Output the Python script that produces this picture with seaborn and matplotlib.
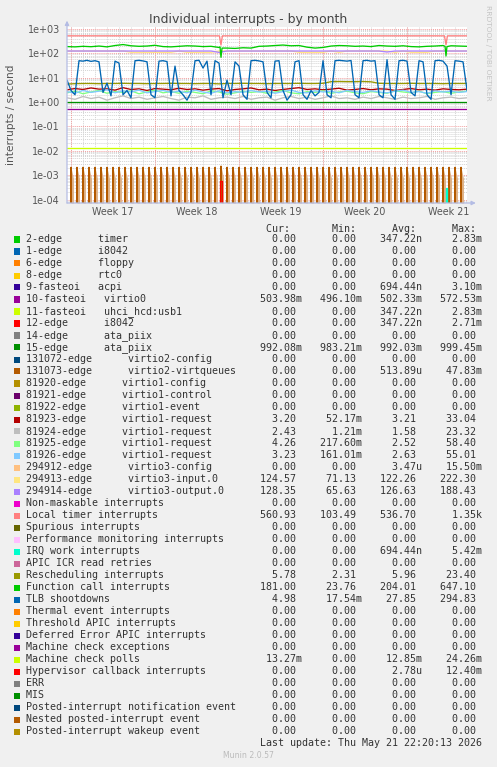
import numpy as np
import pandas as pd
import matplotlib
matplotlib.use("Agg")
import matplotlib.pyplot as plt
import seaborn as sns
from matplotlib.patches import Rectangle

sns.set_theme(style="white")
plt.rcParams["font.family"] = ["DejaVu Sans"]

W, H = 497, 767

# ---- values (interrupts / second) ----
# TLB shootdowns, one value every 8 h
tlb_values = [8, 3, 2, 50, 48, 52, 47, 50, 45, 2.5,
              6, 1.8, 48, 40, 2, 3, 1.5, 50, 52, 49,
              45, 2, 1.5, 48, 50, 46, 1.8, 30, 3, 2,
              1.2, 2.5, 50, 52, 25, 48, 2, 50, 40, 1.5,
              8, 2, 45, 30, 2, 1.3, 50, 52, 49, 45,
              2.5, 1.5, 48, 50, 3, 1.2, 2, 45, 50, 2,
              1.3, 3, 1.8, 2.5, 50, 2, 1.5, 50, 52, 50,
              48, 51, 2, 1.5, 50, 52, 48, 50, 2, 1.5,
              55, 2, 1.3, 50, 52, 48, 2.5, 1.8, 50, 45,
              2, 1.3, 50, 52, 48, 30, 2, 50, 48, 45, 3]

# one value every 16 h
cal_values = [190, 185, 195, 188, 200, 185, 210, 230, 205, 195,
              200, 215, 190, 185, 195, 205, 200, 190, 195, 175,
              165, 160, 170, 165, 195, 200, 210, 220, 205, 210,
              180, 165, 175, 200, 210, 205, 195, 200, 190, 210,
              200, 195, 205, 190, 185, 195, 200, 210, 205, 200, 195]
res_values = [5.5, 5.7, 5.8, 5.8, 5.7, 5.8, 5.8, 5.9, 5.8, 5.8,
              5.7, 5.8, 5.8, 5.9, 5.8, 5.8, 5.7, 5.8, 5.8, 5.6,
              5.8, 5.8, 5.9, 5.8, 5.8, 5.7, 5.8, 5.8, 5.8, 5.9,
              5.8, 5.8, 5.9, 6.9, 7.0, 6.9, 6.9, 7.0, 6.8, 5.9,
              5.8, 5.8, 5.8, 5.9, 5.8, 5.8, 5.8, 5.7, 5.8, 5.8, 5.8]
out3_values = [125, 125, 125, 125, 125, 125, 125, 125, 125, 125,
               125, 125, 125, 125, 125, 125, 125, 125, 125, 110,
               125, 125, 125, 125, 125, 125, 125, 125, 125, 125,
               125, 125, 125, 125, 125, 125, 125, 125, 125, 125,
               114, 125, 125, 125, 125, 125, 125, 125, 125, 125, 125]
in3_values = [125, 125, 125, 125, 125, 125, 125, 125, 111, 111,
              111, 111, 111, 111, 125, 111, 111, 111, 111, 125,
              125, 125, 125, 125, 125, 125, 125, 125, 125, 111,
              111, 111, 111, 125, 111, 125, 125, 125, 125, 125,
              125, 111, 125, 111, 111, 111, 125, 125, 125, 125, 125]
req23_values = [3.2, 3.6, 3.3, 3.8, 3.4, 3.5, 3.1, 3.9, 3.3, 3.5,
                3.0, 3.6, 3.4, 3.2, 3.7, 3.3, 3.5, 3.1, 3.4, 3.6,
                2.9, 3.3, 3.5, 3.8, 3.2, 3.4, 3.0, 3.3, 3.6, 3.9,
                3.3, 3.5, 3.2, 3.4, 3.7, 3.1, 3.3, 3.6, 3.2, 3.5,
                3.4, 3.0, 3.3, 3.6, 3.2, 3.4, 3.1, 3.5, 3.3, 3.2, 3.4]
req24_values = [1.5, 1.3, 1.7, 1.4, 1.6, 1.2, 1.5, 1.8, 1.4, 1.6,
                1.3, 1.5, 1.7, 1.4, 1.2, 1.6, 1.5, 1.8, 1.3, 1.5,
                1.6, 1.4, 1.7, 1.3, 1.5, 1.6, 1.2, 1.5, 1.7, 1.4,
                1.6, 1.3, 1.5, 1.8, 1.4, 1.5, 1.3, 1.6, 1.4, 1.7,
                1.5, 1.3, 1.6, 1.4, 1.5, 1.7, 1.3, 1.5, 1.6, 1.4, 1.5]
req25_values = [2.4, 2.8, 2.2, 2.6, 3.0, 2.3, 2.7, 2.5, 2.9, 2.2,
                2.6, 3.1, 2.4, 2.7, 2.3, 2.8, 2.5, 2.2, 2.9, 2.6,
                2.1, 2.4, 2.8, 2.5, 2.7, 2.3, 2.6, 3.0, 2.4, 2.2,
                2.7, 2.5, 2.9, 2.3, 2.6, 2.8, 2.4, 2.2, 2.7, 2.5,
                2.3, 2.9, 2.6, 2.4, 2.8, 2.2, 2.5, 2.7, 2.3, 2.6, 2.8]
req26_values = [2.7, 2.3, 3.0, 2.5, 2.8, 3.2, 2.4, 2.9, 2.6, 3.1,
                2.4, 2.7, 3.0, 2.5, 2.8, 2.4, 3.1, 2.6, 2.3, 2.9,
                2.4, 2.7, 2.5, 3.0, 2.6, 2.8, 2.3, 2.7, 3.1, 2.5,
                2.4, 2.9, 2.6, 2.8, 2.4, 3.0, 2.7, 2.5, 2.9, 2.6,
                2.4, 2.8, 3.1, 2.5, 2.7, 2.3, 2.9, 2.6, 2.8, 2.5, 2.7]

# explicit (day, value) series
loc_days = [0, 12.7, 12.83, 12.95, 31.45, 31.58, 31.7, 33.33]
loc_values = [525, 525, 220, 525, 525, 225, 525, 525]
cal_dip_days = [12.75, 12.83, 12.92, 31.5, 31.58, 31.66]
cal_dip_values = [185, 69, 165, 195, 78, 190]
flat_days = [0, 33.33]
ata15_values = [0.992, 0.992]
virtio0_values = [0.502, 0.502]
mcp_values = [0.0128, 0.0128]

# virtio2-virtqueues: one burst every 12 h
virtq_peaks = [0.0021] * 25 + [0.00235] + [0.0021] * 40
hyp_days = [12.79, 12.79, 12.92, 12.92]
hyp_values = [0, 6e-4, 6e-4, 0]
iwi_days = [31.56, 31.56, 31.66, 31.66]
iwi_values = [0, 3e-4, 3e-4, 0]

# ---- legend table ----
labels = ["2-edge      timer", "1-edge      i8042", "6-edge      floppy",
          "8-edge      rtc0", "9-fasteoi   acpi", "10-fasteoi   virtio0",
          "11-fasteoi   uhci_hcd:usb1", "12-edge      i8042",
          "14-edge      ata_piix", "15-edge      ata_piix",
          "131072-edge      virtio2-config", "131073-edge      virtio2-virtqueues",
          "81920-edge      virtio1-config", "81921-edge      virtio1-control",
          "81922-edge      virtio1-event", "81923-edge      virtio1-request",
          "81924-edge      virtio1-request", "81925-edge      virtio1-request",
          "81926-edge      virtio1-request", "294912-edge      virtio3-config",
          "294913-edge      virtio3-input.0", "294914-edge      virtio3-output.0",
          "Non-maskable interrupts", "Local timer interrupts",
          "Spurious interrupts", "Performance monitoring interrupts",
          "IRQ work interrupts", "APIC ICR read retries",
          "Rescheduling interrupts", "Function call interrupts",
          "TLB shootdowns", "Thermal event interrupts",
          "Threshold APIC interrupts", "Deferred Error APIC interrupts",
          "Machine check exceptions", "Machine check polls",
          "Hypervisor callback interrupts", "ERR", "MIS",
          "Posted-interrupt notification event", "Nested posted-interrupt event",
          "Posted-interrupt wakeup event"]
colors = ["#00CC00", "#0066B3", "#FF8000", "#FFCC00", "#330099", "#990099",
          "#CCFF00", "#FF0000", "#808080", "#008F00", "#00487D", "#B35A00",
          "#B38F00", "#6B006B", "#8FB300", "#B30000", "#BEBEBE", "#80FF80",
          "#80C9FF", "#FFC080", "#FFE680", "#AA80FF", "#EE00CC", "#FF8080",
          "#666600", "#FFBFFF", "#00FFCC", "#CC6699", "#999900", "#00CC00",
          "#0066B3", "#FF8000", "#FFCC00", "#330099", "#990099", "#CCFF00",
          "#FF0000", "#808080", "#008F00", "#00487D", "#B35A00", "#B38F00"]
cur = ["0.00", "0.00", "0.00", "0.00", "0.00", "503.98m", "0.00", "0.00",
       "0.00", "992.08m", "0.00", "0.00", "0.00", "0.00", "0.00", "3.20",
       "2.43", "4.26", "3.23", "0.00", "124.57", "128.35", "0.00", "560.93",
       "0.00", "0.00", "0.00", "0.00", "5.78", "181.00", "4.98", "0.00",
       "0.00", "0.00", "0.00", "13.27m", "0.00", "0.00", "0.00", "0.00",
       "0.00", "0.00"]
mins = ["0.00", "0.00", "0.00", "0.00", "0.00", "496.10m", "0.00", "0.00",
        "0.00", "983.21m", "0.00", "0.00", "0.00", "0.00", "0.00", "52.17m",
        "1.21m", "217.60m", "161.01m", "0.00", "71.13", "65.63", "0.00",
        "103.49", "0.00", "0.00", "0.00", "0.00", "2.31", "23.76", "17.54m",
        "0.00", "0.00", "0.00", "0.00", "0.00", "0.00", "0.00", "0.00",
        "0.00", "0.00", "0.00"]
avgs = ["347.22n", "0.00", "0.00", "0.00", "694.44n", "502.33m", "347.22n",
        "347.22n", "0.00", "992.03m", "0.00", "513.89u", "0.00", "0.00",
        "0.00", "3.21", "1.58", "2.52", "2.63", "3.47u", "122.26", "126.63",
        "0.00", "536.70", "0.00", "0.00", "694.44n", "0.00", "5.96", "204.01",
        "27.85", "0.00", "0.00", "0.00", "0.00", "12.85m", "2.78u", "0.00",
        "0.00", "0.00", "0.00", "0.00"]
maxs = ["2.83m", "0.00", "0.00", "0.00", "3.10m", "572.53m", "2.83m", "2.71m",
        "0.00", "999.45m", "0.00", "47.83m", "0.00", "0.00", "0.00", "33.04",
        "23.32", "58.40", "55.01", "15.50m", "222.30", "188.43", "0.00",
        "1.35k", "0.00", "0.00", "5.42m", "0.00", "23.40", "647.10", "294.83",
        "0.00", "0.00", "0.00", "0.00", "24.26m", "12.40m", "0.00", "0.00",
        "0.00", "0.00", "0.00"]

week_labels = ["Week 17", "Week 18", "Week 19", "Week 20", "Week 21"]
decade_labels = ["1e-04", "1e-03", "1e-02", "1e-01", "1e+00", "1e+01", "1e+02", "1e+03"]

# ---- build long table ----
t8h = np.arange(len(tlb_values)) / 3.0
t16h = np.arange(len(cal_values)) * 2 / 3.0

vq_days, vq_values = [], []
for k, h in enumerate(virtq_peaks):
    d = 1 / 3 + 0.5 * k
    vq_days += [d, d, d + 0.002]
    vq_values += [0, h, 0]

cal_t = np.concatenate([t16h, cal_dip_days])
cal_v = np.concatenate([cal_values, cal_dip_values])
order_idx = np.argsort(cal_t, kind="stable")
cal_t, cal_v = cal_t[order_idx], cal_v[order_idx]

parts = [
    ("virtio0", flat_days, virtio0_values, "#990099"),
    ("ata15", flat_days, ata15_values, "#008F00"),
    ("virtq", vq_days, vq_values, "#B35A00"),
    ("req23", t16h, req23_values, "#B30000"),
    ("req24", t16h, req24_values, "#BEBEBE"),
    ("req25", t16h, req25_values, "#80FF80"),
    ("req26", t16h, req26_values, "#80C9FF"),
    ("in3", t16h, in3_values, "#FFE680"),
    ("out3", t16h, out3_values, "#AA80FF"),
    ("loc", loc_days, loc_values, "#FF8080"),
    ("iwi", iwi_days, iwi_values, "#00FFCC"),
    ("res", t16h, res_values, "#999900"),
    ("cal", cal_t, cal_v, "#00CC00"),
    ("tlb", t8h, tlb_values, "#0066B3"),
    ("mcp", flat_days, mcp_values, "#CCFF00"),
    ("hyp", hyp_days, hyp_values, "#FF0000"),
]
df = pd.concat([pd.DataFrame({"day": t, "rate": v, "series": n})
                for n, t, v, _ in parts], ignore_index=True)
palette = {n: c for n, _, _, c in parts}
hue_order = [n for n, _, _, _ in parts]

# ---- figure ----
fig = plt.figure(figsize=(W / 100, H / 100), dpi=100, facecolor="#F0F0F0")
ax = fig.add_axes([67 / W, 1 - 203 / H, 400 / W, 176 / H])
ax.set_facecolor("white")
ax.set_yscale("log", nonpositive="clip")
ymin, ymax = 7.2e-5, 1.21e3
xmax = 33.33

# grid
for dec in range(-5, 4):
    for m in range(2, 10):
        yv = m * 10.0 ** dec
        if ymin < yv < ymax:
            ax.axhline(yv, color="#D4D4D4", lw=0.7, ls=(0, (1, 1)), zorder=0)
for dec in range(-4, 4):
    ax.axhline(10.0 ** dec, color="#F2A0A0", lw=0.7, ls=(0, (1, 1)), zorder=0.5)
for k in range(34):
    ax.axvline(0.3 + k, color="#D4D4D4", lw=0.7, ls=(0, (1, 1)), zorder=0)
for k in range(5):
    ax.axvline(0.3 + 7 * k, color="#F2A0A0", lw=0.7, ls=(0, (1, 1)), zorder=0.5)

# light trailing shade of each virtqueue burst
for k, h in enumerate(virtq_peaks):
    d = 1 / 3 + 0.5 * k
    ax.fill_between([d, d + 0.2], ymin, [h, h * 0.35], color="#DDB084",
                    lw=0, zorder=1)

sns.lineplot(data=df, x="day", y="rate", hue="series", hue_order=hue_order,
             palette=palette, estimator=None, sort=False, linewidth=0.95,
             legend=False, ax=ax, zorder=2)

ax.set_yscale("log", nonpositive="clip")
ax.set_ylim(ymin, ymax)
ax.set_xlim(0, xmax)
ax.set_yticks([10.0 ** d for d in range(-4, 4)])
ax.set_yticklabels(decade_labels)
ax.yaxis.set_minor_locator(matplotlib.ticker.NullLocator())
ax.set_xticks([3.8 + 7 * k for k in range(5)])
ax.set_xticklabels(week_labels)
ax.tick_params(axis="both", length=0, colors="#555555", labelsize=6.9)
ax.tick_params(axis="y", pad=5)
ax.tick_params(axis="x", pad=3)
ax.set_xlabel("")
ax.set_ylabel("")
for s in ax.spines.values():
    s.set_visible(False)

axis_col = "#B4BCE4"
ax.annotate("", xy=(0, 1.036), xytext=(0, 0), xycoords="axes fraction",
            arrowprops=dict(arrowstyle="-|>", color=axis_col, lw=0.9,
                            mutation_scale=6, shrinkA=0, shrinkB=0),
            annotation_clip=False)
ax.annotate("", xy=(1.022, 0), xytext=(0, 0), xycoords="axes fraction",
            arrowprops=dict(arrowstyle="-|>", color=axis_col, lw=0.9,
                            mutation_scale=6, shrinkA=0, shrinkB=0),
            annotation_clip=False)

def fx(px):
    return px / W

def fy(py):
    return 1 - py / H

fig.text(fx(248), fy(19.5), "Individual interrupts - by month", size=9,
         color="#444444", ha="center", va="center")
fig.text(fx(11), fy(114.5), "interrupts / second", size=7.6, color="#555555",
         rotation=90, ha="center", va="center")
fig.text(fx(488), fy(53), "RRDTOOL / TOBI OETIKER", size=5.4, color="#C4C4C4",
         rotation=270, ha="center", va="center")

mono = "DejaVu Sans Mono"
msize = 7.2


def field(s):
    if s[-1].isalpha():
        return s[:-1].rjust(9) + s[-1]
    return s.rjust(9) + " "


header = " " * 40 + "Cur:" + " " * 7 + "Min:" + " " * 6 + "Avg:" + " " * 6 + "Max:"
fig.text(fx(26), fy(228.5), header, family=mono, size=msize, color="#333333",
         ha="left", va="center")

for i, lab in enumerate(labels):
    y = 239.5 + 12 * i
    fig.patches.append(Rectangle((fx(14), fy(y + 3)), 6 / W, 6 / H,
                                 transform=fig.transFigure,
                                 facecolor=colors[i], edgecolor="none"))
    line = lab.ljust(36) + field(cur[i]) + field(mins[i]) + field(avgs[i]) + field(maxs[i])
    fig.text(fx(26), fy(y), line, family=mono, size=msize, color="#333333",
             ha="left", va="center")

fig.text(fx(482), fy(743.5), "Last update: Thu May 21 22:20:13 2026",
         family=mono, size=msize, color="#333333", ha="right", va="center")
fig.text(fx(248), fy(756), "Munin 2.0.57", size=5.6, color="#BBBBBB",
         ha="center", va="center")

fig.savefig("out.png", dpi=100, facecolor=fig.get_facecolor())
